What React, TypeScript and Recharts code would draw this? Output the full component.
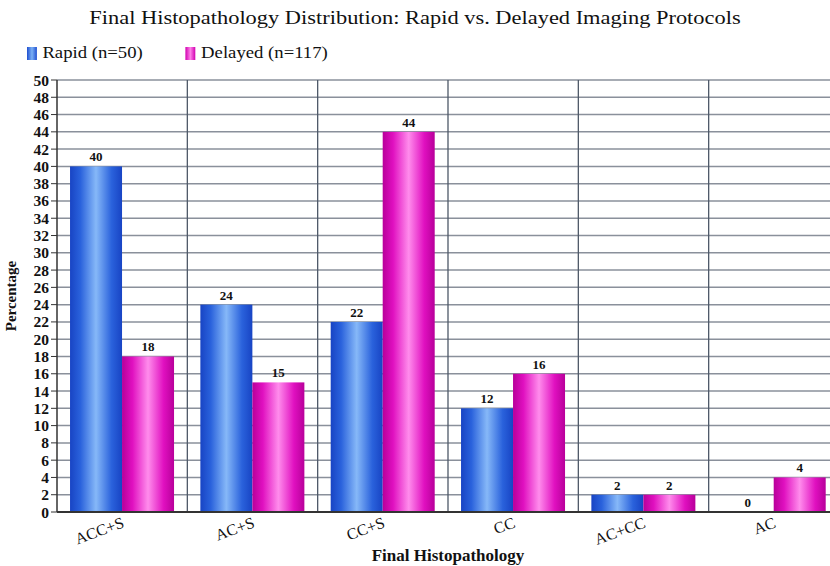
import { BarChart, Bar, XAxis, YAxis, CartesianGrid } from "recharts";

const CATEGORIES = ["ACC+S", "AC+S", "CC+S", "CC", "AC+CC", "AC"];
const RAPID = [40, 24, 22, 12, 2, 0];
const DELAYED = [18, 15, 44, 16, 2, 4];
const Y_TICKS = [0, 2, 4, 6, 8, 10, 12, 14, 16, 18, 20, 22, 24, 26, 28, 30, 32, 34, 36, 38, 40, 42, 44, 46, 48, 50];

const data = CATEGORIES.map((name, i) => ({
  name,
  Rapid: RAPID[i],
  Delayed: DELAYED[i],
}));

const SERIF = '"Liberation Serif", "DejaVu Serif", serif';

const XTick = ({ x, y, payload }: any) => (
  <text
    x={x + 3}
    y={y + 7}
    transform={`rotate(-20, ${x + 3}, ${y + 7})`}
    textAnchor="end"
    fontFamily={SERIF}
    fontSize={16}
    fill="#111"
  >
    {payload.value}
  </text>
);

// bar + value label in one shape, so zero bars still get their "0"
const makeShape = (dataKey: string, fill: string) => (props: any) => {
  const { x, y, width, height, payload } = props;
  const value = payload[dataKey];
  return (
    <g>
      {height > 0 && <rect x={x} y={y} width={width} height={height} fill={fill} />}
      <text
        x={x + width / 2}
        y={y - 5}
        textAnchor="middle"
        fontFamily={SERIF}
        fontSize={13}
        fontWeight="bold"
        fill="#111"
      >
        {value}
      </text>
    </g>
  );
};

const boundaries = ({ offset }: any) => {
  const out: number[] = [];
  for (let i = 1; i < CATEGORIES.length; i++) {
    out.push(offset.left + (offset.width * i) / CATEGORIES.length);
  }
  return out;
};

export default function App() {
  return (
    <div
      style={{
        position: "absolute",
        left: 0,
        top: 0,
        width: 830,
        height: 566,
        overflow: "hidden",
        background: "#fff",
        fontFamily: SERIF,
      }}
    >
      <div
        style={{
          position: "absolute",
          top: 7,
          width: 830,
          textAlign: "center",
          fontSize: 19,
          color: "#111",
          transform: "scaleX(1.18)",
        }}
      >
        Final Histopathology Distribution: Rapid vs. Delayed Imaging Protocols
      </div>
      <div
        style={{
          position: "absolute",
          top: 43,
          left: 27,
          fontSize: 17,
          color: "#111",
          display: "flex",
          alignItems: "center",
          transform: "scaleX(1.1)",
          transformOrigin: "left center",
        }}
      >
        <span style={{ width: 9, height: 13, background: "linear-gradient(90deg,#1f4fd0,#7ab0f5,#1f4fd0)", marginRight: 5 }} />
        <span>Rapid (n=50)</span>
        <span style={{ width: 9, height: 13, background: "linear-gradient(90deg,#d000b0,#ff80e8,#d000b0)", marginLeft: 39, marginRight: 5 }} />
        <span>Delayed (n=117)</span>
      </div>
      <div
        style={{
          position: "absolute",
          top: 546,
          left: 57,
          width: 782,
          textAlign: "center",
          fontSize: 17,
          fontWeight: "bold",
          color: "#111",
        }}
      >
        Final Histopathology
      </div>
      <BarChart
        width={850}
        height={566}
        data={data}
        margin={{ top: 80, right: 11, left: 0, bottom: 24 }}
        barCategoryGap="10%"
        barGap={0}
      >
        <defs>
          <linearGradient id="gRapid" x1="0" y1="0" x2="1" y2="0">
            <stop offset="0%" stopColor="#1844c4" />
            <stop offset="20%" stopColor="#2a62dc" />
            <stop offset="50%" stopColor="#86b8f8" />
            <stop offset="80%" stopColor="#2a62dc" />
            <stop offset="100%" stopColor="#1844c4" />
          </linearGradient>
          <linearGradient id="gDelayed" x1="0" y1="0" x2="1" y2="0">
            <stop offset="0%" stopColor="#b8009a" />
            <stop offset="20%" stopColor="#e010c0" />
            <stop offset="50%" stopColor="#ff8cec" />
            <stop offset="80%" stopColor="#e010c0" />
            <stop offset="100%" stopColor="#b8009a" />
          </linearGradient>
        </defs>
        <CartesianGrid stroke="#8a909b" strokeWidth={1.5} vertical={false} />
        <CartesianGrid
          stroke="#4e5868"
          strokeWidth={1.3}
          horizontal={false}
          verticalCoordinatesGenerator={boundaries}
        />
        <XAxis
          dataKey="name"
          height={30}
          tick={<XTick />}
          tickLine={false}
          axisLine={{ stroke: "#333", strokeWidth: 2 }}
          interval={0}
        />
        <YAxis
          width={57}
          domain={[0, 50]}
          ticks={Y_TICKS}
          interval={0}
          tickSize={6}
          tickMargin={2}
          tick={{ fontSize: 15.5, fontWeight: "bold", fill: "#111", fontFamily: SERIF }}
          axisLine={{ stroke: "#333", strokeWidth: 1.5 }}
          tickLine={{ stroke: "#333" }}
          label={{
            content: ({ viewBox }: any) => {
              const cx = 16;
              const cy = viewBox.y + viewBox.height / 2;
              return (
                <text
                  x={cx}
                  y={cy}
                  transform={`rotate(-90, ${cx}, ${cy})`}
                  textAnchor="middle"
                  fontFamily={SERIF}
                  fontSize={15}
                  fontWeight="bold"
                  fill="#111"
                >
                  Percentage
                </text>
              );
            },
          }}
        />
        <Bar
          dataKey="Rapid"
          isAnimationActive={false}
          shape={makeShape("Rapid", "url(#gRapid)")}
        />
        <Bar
          dataKey="Delayed"
          isAnimationActive={false}
          shape={makeShape("Delayed", "url(#gDelayed)")}
        />
      </BarChart>
    </div>
  );
}
